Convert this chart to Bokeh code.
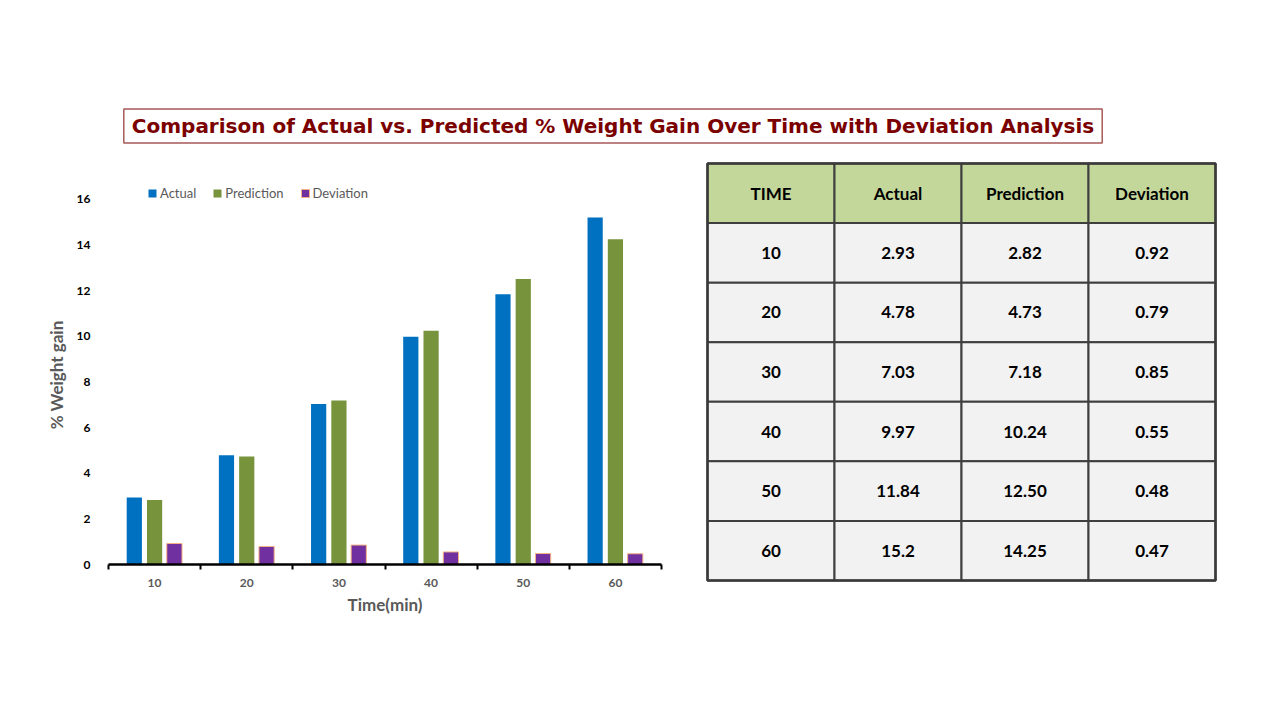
from bokeh.plotting import figure
from bokeh.models import (Range1d, FixedTicker, Legend, LegendItem, Label,
                          ColumnDataSource)
from bokeh.layouts import column, row
from bokeh.transform import dodge
from bokeh.embed import file_html
from bokeh.resources import INLINE
from bokeh.core.properties import value

# ---------------- data ----------------
times = [10, 20, 30, 40, 50, 60]
actual = [2.93, 4.78, 7.03, 9.97, 11.84, 15.2]
prediction = [2.82, 4.73, 7.18, 10.24, 12.50, 14.25]
deviation = [0.92, 0.79, 0.85, 0.55, 0.48, 0.47]
series_names = ["Actual", "Prediction", "Deviation"]
y_ticks = [0, 2, 4, 6, 8, 10, 12, 14, 16]
table_headers = ["TIME", "Actual", "Prediction", "Deviation"]
title_text = "Comparison of Actual vs. Predicted % Weight Gain Over Time with Deviation Analysis"

BODY = "Lato"
C_ACT, C_PRED, C_DEV = "#0070c0", "#77933c", "#7030a0"

# ---------------- title ----------------
TH = 155
tf = figure(width=1272, height=TH, x_range=Range1d(0, 1272), y_range=Range1d(0, TH),
            x_axis_type=None, y_axis_type=None, toolbar_location=None,
            output_backend="svg", min_border=0)
tf.outline_line_color = None
tf.grid.visible = False
tpad = dict(left=8, right=8, top=5, bottom=5)
shadow = Label(x=614.5, y=27.5, text=title_text, text_align="center", text_baseline="middle",
               text_font="DejaVu Sans", text_font_style="bold", text_font_size="20px",
               text_alpha=0, background_fill_color="#bfbfbf", background_fill_alpha=0.6,
               border_line_color=None, padding=tpad)
lbl = Label(x=612.5, y=29.5, text=title_text, text_align="center", text_baseline="middle",
            text_font="DejaVu Sans", text_font_style="bold", text_font_size="20px",
            text_color="#7b0000", background_fill_color="white",
            border_line_color="#a65a58", border_line_width=1.5, padding=tpad)
tf.add_layout(shadow)
tf.add_layout(lbl)

ROW_H = 485

# ---------------- bar chart ----------------
src = ColumnDataSource(dict(t=times, a=actual, pr=prediction, d=deviation))
p = figure(x_range=Range1d(5, 65), y_range=Range1d(0, 16.6),
           width=700, height=ROW_H,
           min_border_left=108, min_border_right=39, min_border_top=30, min_border_bottom=76,
           toolbar_location=None, output_backend="svg")
p.outline_line_color = None
p.grid.visible = False

r1 = p.vbar(x=dodge("t", -2.2, range=p.x_range), top="a", width=1.65, source=src,
            fill_color=C_ACT, line_color=None)
r2 = p.vbar(x=dodge("t", 0.0, range=p.x_range), top="pr", width=1.65, source=src,
            fill_color=C_PRED, line_color=None)
r3 = p.vbar(x=dodge("t", 2.15, range=p.x_range), top="d", width=1.65, source=src,
            fill_color=C_DEV, line_color="#f4b183", line_width=1)

p.xaxis.ticker = FixedTicker(ticks=times, minor_ticks=[t - 5 for t in times] + [times[-1] + 5])
p.xaxis.major_tick_line_color = None
p.xaxis.minor_tick_line_color = "black"
p.xaxis.minor_tick_line_width = 2
p.xaxis.minor_tick_out = 5
p.xaxis.minor_tick_in = 0
p.xaxis.axis_line_color = "black"
p.xaxis.axis_line_width = 2.5
p.xaxis.major_label_text_font = BODY
p.xaxis.major_label_text_font_style = "bold"
p.xaxis.major_label_text_font_size = "12px"
p.xaxis.major_label_text_color = "#595959"
p.xaxis.major_label_standoff = 8
p.xaxis.axis_label = "Time(min)"
p.xaxis.axis_label_text_font = BODY
p.xaxis.axis_label_text_font_style = "bold"
p.xaxis.axis_label_text_font_size = "17px"
p.xaxis.axis_label_text_color = "#595959"
p.xaxis.axis_label_standoff = 4

p.yaxis.ticker = FixedTicker(ticks=y_ticks)
p.yaxis.axis_line_color = None
p.yaxis.major_tick_line_color = None
p.yaxis.minor_tick_line_color = None
p.yaxis.major_label_text_font = BODY
p.yaxis.major_label_text_font_style = "bold"
p.yaxis.major_label_text_font_size = "12px"
p.yaxis.major_label_text_color = "black"
p.yaxis.major_label_standoff = 12
p.yaxis.axis_label = "% Weight gain"
p.yaxis.axis_label_text_font = BODY
p.yaxis.axis_label_text_font_style = "bold"
p.yaxis.axis_label_text_font_size = "17px"
p.yaxis.axis_label_text_color = "#595959"
p.yaxis.axis_label_standoff = 7

legend = Legend(items=[LegendItem(label=n, renderers=[r]) for n, r in zip(series_names, [r1, r2, r3])],
                location=(39, 363), orientation="horizontal", padding=0, margin=0,
                spacing=16, glyph_width=10, glyph_height=10, label_standoff=3,
                border_line_color=None, background_fill_alpha=0,
                label_text_font=BODY, label_text_font_size="13px",
                label_text_color="#595959")
p.add_layout(legend)

# ---------------- table ----------------
T_TOP, T_BOT = 6, 58
row_px = (ROW_H - T_TOP - T_BOT - 4) / 7
pad_x = 2 / 127
pad_y = 2 / row_px
tb = figure(x_range=Range1d(-pad_x, 4 + pad_x), y_range=Range1d(7 + pad_y, -pad_y),
            width=572, height=ROW_H,
            min_border_left=5, min_border_right=55, min_border_top=T_TOP, min_border_bottom=T_BOT,
            x_axis_type=None, y_axis_type=None, toolbar_location=None, output_backend="svg")
tb.outline_line_color = None
tb.grid.visible = False

def fmt_actual(v):
    return f"{v:g}"

cols = [
    [str(t) for t in times],
    [fmt_actual(v) for v in actual],
    [f"{v:.2f}" for v in prediction],
    [f"{v:.2f}" for v in deviation],
]
cx, cy, fills, texts = [], [], [], []
for c, h in enumerate(table_headers):
    cx.append(c + 0.5); cy.append(0.5); fills.append("#c4d79b"); texts.append(h)
    for r, s in enumerate(cols[c]):
        cx.append(c + 0.5); cy.append(r + 1.5); fills.append("#f2f2f2"); texts.append(s)
tsrc = ColumnDataSource(dict(x=cx, y=cy, fill=fills, text=texts))
tb.rect(x="x", y="y", width=1, height=1, source=tsrc, fill_color="fill",
        line_color="#3f3f3f", line_width=2)
tb.rect(x=[2], y=[3.5], width=4, height=7, fill_color=None, line_color="#3a3a3a", line_width=2.5)
tb.text(x="x", y="y", text="text", source=tsrc, text_align="center", text_baseline="middle",
        text_font=value(BODY), text_font_style="bold", text_font_size="17px", text_color="black")

layout = column(tf, row(p, column(tb)))
open("out.html", "w").write(file_html(layout, INLINE))
